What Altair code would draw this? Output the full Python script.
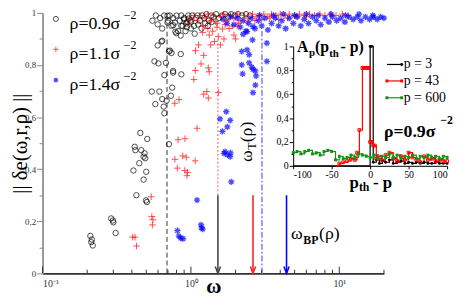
import altair as alt
import pandas as pd

FONT = "Liberation Serif"

# ---------------- main panel data (omega, ||de||) ----------------
rho09_x = [0.21, 0.215, 0.213, 0.218, 0.29, 0.298, 0.30, 0.311,
           0.456, 0.508, 0.418, 0.422, 0.463, 0.487, 0.48, 0.492, 0.449, 0.41, 0.50, 0.48, 0.429, 0.498, 0.505,
           0.711, 0.545, 0.613, 0.748, 0.576, 0.641, 0.686, 0.662, 0.733, 0.655,
           0.662, 0.759, 0.568, 0.604, 0.679, 0.711, 0.74, 0.854, 0.759, 0.862,
           0.641, 0.597, 0.722, 0.634,
           0.696, 0.597, 0.696, 0.779, 0.798, 0.759, 0.862, 0.786, 0.854, 0.899, 0.965, 0.945,
           0.55, 0.58, 0.62, 0.64, 0.66, 0.70, 0.72, 0.74, 0.76, 0.80, 0.82, 0.84, 0.86, 0.88, 0.90, 0.93,
           0.96, 0.99, 1.02, 1.05, 1.08, 1.11, 1.15, 1.19, 1.23, 1.27, 1.32, 1.37, 1.42, 1.48, 1.55, 1.62,
           1.70, 1.78, 1.87, 1.97, 2.08, 2.2, 2.35, 2.5,
           0.92, 1.0, 1.06, 1.12, 1.18, 1.25, 1.3, 1.38, 1.0, 0.94]
rho09_y = [0.144, 0.13, 0.12, 0.107, 0.211, 0.203, 0.196, 0.155,
           0.539, 0.516, 0.486, 0.473, 0.473, 0.461, 0.448, 0.442, 0.423, 0.395, 0.39, 0.36, 0.30, 0.28, 0.274,
           0.496, 0.698, 0.698, 0.713, 0.65, 0.669, 0.663, 0.615, 0.682, 0.64,
           0.761, 0.777, 0.814, 0.806, 0.808, 0.852, 0.846, 0.842, 0.771, 0.764,
           0.893, 0.875, 0.855, 0.89,
           0.989, 0.956, 0.963, 0.963, 0.922, 0.953, 0.95, 0.928, 0.913, 0.975, 0.978, 0.965,
           0.97, 0.99, 0.98, 0.94, 0.99, 0.97, 0.99, 0.95, 0.98, 0.99, 0.93, 0.97, 0.99, 0.95, 0.98, 0.96,
           0.99, 0.97, 0.99, 0.95, 0.98, 0.99, 0.97, 0.99, 0.98, 0.995, 0.97, 0.99, 0.985, 0.995, 0.98, 0.99,
           0.995, 0.985, 0.995, 0.99, 0.995, 0.99, 0.995, 0.99,
           0.93, 0.94, 0.92, 0.955, 0.94, 0.96, 0.95, 0.965, 0.965, 0.945]

rho11_x = [0.405, 0.42, 0.43, 0.54, 0.545, 0.555, 0.55,
           0.82, 0.912, 0.78, 0.88, 0.93, 0.81, 0.91, 0.95, 0.94, 1.068,
           1.10, 0.832, 0.779, 1.28, 1.22, 1.31, 1.53,
           1.047, 1.07, 1.074, 1.22, 1.17, 1.31, 1.33, 1.125, 1.36, 1.33, 1.53, 1.63, 1.81, 2.0, 1.47, 1.44,
           1.58, 1.67, 1.95, 2.05,
           0.95, 1.0, 1.05, 1.1, 1.15, 1.2, 1.25, 1.3, 1.36, 1.42, 1.5, 1.58, 1.66, 1.75, 1.85, 1.95, 2.05,
           2.15, 2.3, 2.45, 2.6, 2.75, 2.9, 3.1, 3.3, 3.5, 3.75, 4.0, 4.3, 4.6, 5.0, 5.4, 5.8, 6.3, 6.8, 7.4,
           8.0, 8.7, 9.5, 10.5, 11.5,
           1.3, 1.4, 1.2, 1.5, 1.7, 1.9, 2.1, 2.4, 2.7, 3.0, 3.4, 3.9, 4.5, 5.2, 6.0]
rho11_y = [0.139, 0.139, 0.105, 0.294, 0.218, 0.206, 0.186,
           0.513, 0.517, 0.438, 0.451, 0.446, 0.404, 0.395, 0.388, 0.375, 0.432,
           0.557, 0.667, 0.653, 0.698, 0.688, 0.673, 0.694,
           0.744, 0.779, 0.855, 0.837, 0.804, 0.789, 0.774, 0.877, 0.877, 0.915, 0.909, 0.938, 0.94, 0.90,
           0.966, 0.89, 0.877, 0.90, 0.915, 0.95,
           0.96, 0.98, 0.99, 0.97, 0.99, 0.95, 0.98, 0.995, 0.97, 0.99, 0.96, 0.985, 0.995, 0.97, 0.99, 0.98,
           0.995, 0.97, 0.99, 0.98, 0.995, 0.985, 0.99, 0.995, 0.985, 0.995, 0.99, 0.995, 0.99, 0.995, 0.99,
           0.995, 0.99, 0.995, 0.99, 0.995, 0.99, 0.995, 0.99, 0.995, 0.99,
           0.94, 0.93, 0.925, 0.945, 0.955, 0.95, 0.96, 0.965, 0.97, 0.975, 0.98, 0.975, 0.98, 0.985, 0.985]

rho14_x = [0.811, 0.829, 0.854, 0.885, 1.10, 1.17, 1.18, 1.20, 1.87, 1.67, 1.76, 1.84, 1.85, 1.70,
           1.73, 1.57, 1.84, 1.76, 1.63,
           2.62, 2.72, 2.75, 2.72, 2.62, 2.57, 2.47, 2.2, 2.23, 2.47, 2.39, 2.2, 3.25, 3.25, 2.6, 2.25, 2.39, 2.62,
           1.65, 1.75, 1.85, 1.95, 2.05, 2.15, 2.25, 2.35, 2.45, 2.55, 2.7, 2.85, 3.0, 3.15, 3.3, 3.5, 3.7,
           3.9, 4.1, 4.35, 4.6, 4.9, 5.2, 5.5, 5.8, 6.2, 6.6, 7.0, 7.5, 8.0, 8.5, 9.0, 9.6, 10.2, 10.9, 11.6,
           12.4, 13.2, 14.0, 15.0, 16.0, 17.0, 18.0, 19.0, 20.0,
           2.9, 3.6, 4.2, 5.0, 6.0, 7.2, 8.8, 11.0, 13.6, 16.8]
rho14_y = [0.164, 0.143, 0.135, 0.133, 0.281, 0.186, 0.175, 0.17, 0.351, 0.461, 0.455, 0.448, 0.463, 0.467,
           0.621, 0.593, 0.587, 0.562, 0.545,
           0.694, 0.723, 0.758, 0.777, 0.783, 0.792, 0.808, 0.80, 0.766, 0.84, 0.858, 0.852, 0.814, 0.884,
           0.896, 0.918, 0.928, 0.947,
           0.975, 0.96, 0.985, 0.955, 0.98, 0.945, 0.97, 0.93, 0.96, 0.98, 0.94, 0.97, 0.95, 0.98, 0.935,
           0.96, 0.98, 0.95, 0.97, 0.94, 0.98, 0.96, 0.985, 0.95, 0.975, 0.96, 0.985, 0.97, 0.955, 0.98,
           0.965, 0.985, 0.97, 0.98, 0.965, 0.985, 0.975, 0.985, 0.97, 0.985, 0.975, 0.985, 0.975, 0.985, 0.98,
           0.99, 0.99, 0.995, 0.99, 0.995, 0.99, 0.995, 0.99, 0.995, 0.99]

# vertical markers (omega positions)
omega_c_black = 0.69
omega_T_red = 1.52
omega_T_blue = 3.01
arrow_x = [1.52, 2.62, 4.41]
arrow_colors = ["#444444", "#ff2020", "#0000ff"]
arrow_top = 0.30

# tick positions
xtick_major = [0.1, 1, 10]
xtick_minor = [0.2, 0.3, 0.4, 0.5, 0.6, 0.7, 0.8, 0.9, 2, 3, 4, 5, 6, 7, 8, 9, 20]
ytick_major = [0, 0.2, 0.4, 0.6, 0.8, 1]
ytick_minor = [0.1, 0.3, 0.5, 0.7, 0.9]

# ---------------- inset data: A_p(p_th - p) ----------------
p3_x = [-100, -50, 0, 2, 4, 8, 12, 16, 20, 25, 30, 35, 40, 45, 50, 55, 60, 65, 70, 75, 80, 85, 90, 95, 100]
p3_y = [0, 0, 1.0, 1.0, 0.03, 0.05, 0.02, 0.04, 0.03, 0.05, 0.02, 0.03, 0.04, 0.02, 0.03, 0.02, 0.03,
        0.02, 0.03, 0.02, 0.02, 0.03, 0.02, 0.02, 0.02]
p43_x = [-45, -40, -35, -30, -25, -20, -17, -14, -10, -8, -6, -4, -2, 0, 2, 4, 6, 8, 10, 15, 20, 25, 30,
         35, 40, 45, 50, 55, 60, 65, 70, 75, 80, 85, 90, 95, 100]
p43_y = [0.0, 0.02, 0.03, 0.04, 0.06, 0.05, 0.11, 0.30, 0.82, 0.82, 0.82, 0.82, 0.82, 0.20, 0.20, 0.17,
         0.17, 0.06, 0.08, 0.05, 0.09, 0.11, 0.06, 0.04, 0.08, 0.05, 0.11, 0.07, 0.05, 0.03, 0.08, 0.05,
         0.06, 0.04, 0.05, 0.04, 0.04]
p600_x = [-100, -95, -90, -85, -80, -75, -70, -65, -60, -55, -50, -45, -40, -35, -30, -25, -20, -15, -10,
          -5, 0, 5, 10, 15, 20, 25, 30, 35, 40, 45, 50, 55, 60, 65, 70, 75, 80, 85, 90, 95, 100]
p600_y = [0.11, 0.12, 0.10, 0.12, 0.13, 0.10, 0.11, 0.09, 0.12, 0.13, 0.12, 0.05, 0.08, 0.06, 0.07, 0.09,
          0.07, 0.10, 0.09, 0.08, 0.07, 0.09, 0.06, 0.08, 0.07, 0.10, 0.07, 0.09, 0.06, 0.08, 0.07, 0.09,
          0.06, 0.08, 0.07, 0.09, 0.07, 0.08, 0.06, 0.08, 0.07]
inset_labels = ["p = 3", "p = 43", "p = 600"]
inset_colors = ["#000000", "#ff0000", "#139213"]
inset_xticks = [-100, -50, 0, 50, 100]

# ---------------- annotation texts ----------------
legend_labels = ["ρ=0.9σ", "ρ=1.1σ", "ρ=1.4σ"]
legend_sup = ["−2", "−2", "−2"]

# ---------------- scales / axes ----------------
xs_main = alt.Scale(type="log", domain=[0.1, 20], nice=False)
ys_main = alt.Scale(domain=[0, 1], nice=False, zero=False)
xs_in = alt.Scale(domain=[-100, 100], range=[254, 410], nice=False, zero=False)
ys_in = alt.Scale(domain=[0, 1], range=[155, 34], nice=False, zero=False)

comma_expr = ("datum.value == 0 ? '0' : (datum.value == 1 ? '1' : "
              "replace(format(datum.value, '.1f'), '.', ','))")

x_axis_main = alt.Axis(orient="bottom", values=xtick_major, ticks=False, grid=False,
                       domainColor="#333", domainWidth=2,
                       labelExpr="datum.value < 0.5 ? '10⁻¹' : (datum.value < 5 ? '10⁰' : '10¹')",
                       labelFont=FONT, labelFontSize=10, labelColor="#333", labelPadding=5,
                       title="ω", titleFont=FONT, titleFontSize=21, titleFontWeight="bold",
                       titleX=173, titleY=19, titleAlign="center", titleBaseline="alphabetic")
y_axis_main = alt.Axis(orient="left", values=ytick_major, grid=False, labelExpr=comma_expr,
                       tickSize=6, tickColor="#888", domainColor="#999", domainWidth=2,
                       labelFont=FONT, labelFontSize=9, labelColor="#333", labelPadding=1,
                       title="|| δe(ω,r,ρ) ||", titleFont=FONT, titleFontSize=21, titleFontWeight="normal",
                       titleAngle=270, titleX=-16, titleY=132, titleAlign="center", titleBaseline="alphabetic")
y_axis_main_minor = alt.Axis(orient="left", values=ytick_minor, grid=False, labels=False, domain=False,
                             tickSize=3.5, tickColor="#888", title=None)
x_axis_in = alt.Axis(orient="bottom", offset=-109, values=inset_xticks, grid=False,
                     labelExpr="'' + datum.value", tickSize=3, domainColor="#000", tickColor="#000",
                     labelFont=FONT, labelFontSize=10, labelColor="#000", labelPadding=1, title=None)
y_axis_in = alt.Axis(orient="left", offset=-254, values=ytick_major, grid=False, labelExpr=comma_expr,
                     tickSize=4, domainColor="#000", tickColor="#000",
                     labelFont=FONT, labelFontSize=10, labelColor="#000", labelPadding=1, title=None)
y_axis_in_minor = alt.Axis(orient="left", offset=-254, values=ytick_minor, grid=False, labels=False,
                           domain=False, tickSize=2, tickColor="#000", title=None)


def mx(axis=None):
    return alt.X("x:Q", scale=xs_main, axis=axis)


def my(axis=None):
    return alt.Y("y:Q", scale=ys_main, axis=axis)


def ix(axis=None):
    return alt.X("x:Q", scale=xs_in, axis=axis)


def iy(axis=None):
    return alt.Y("y:Q", scale=ys_in, axis=axis)


PLUS = "M-1,0L1,0M0,-1L0,1"
STAR = "M-1,0L1,0M0,-1L0,1M-0.7,-0.7L0.7,0.7M-0.7,0.7L0.7,-0.7"
VHEAD = "M-0.9,-2.3L0,0L0.9,-2.3"

anchor_main = pd.DataFrame({"x": [1.0], "y": [0.5]})
anchor_in = pd.DataFrame({"x": [0.0], "y": [0.5]})

# ---------------- main layers ----------------
ax_main = alt.Chart(anchor_main).mark_point(opacity=0).encode(x=mx(x_axis_main), y=my(y_axis_main))
ax_main_minor = alt.Chart(anchor_main).mark_point(opacity=0).encode(x=mx(), y=my(y_axis_main_minor))

black_pts = alt.Chart(pd.DataFrame({"x": rho09_x, "y": rho09_y})).mark_point(
    shape="circle", filled=False, color="black", size=30, strokeWidth=1).encode(x=mx(), y=my())
red_pts = alt.Chart(pd.DataFrame({"x": rho11_x, "y": rho11_y})).mark_point(
    shape=PLUS, filled=False, color="#ff0000", size=45, strokeWidth=1).encode(x=mx(), y=my())
blue_pts = alt.Chart(pd.DataFrame({"x": rho14_x, "y": rho14_y})).mark_point(
    shape=STAR, filled=False, color="#0000ff", size=40, strokeWidth=1.3).encode(x=mx(), y=my())

g_black = alt.Chart(pd.DataFrame({"x": [omega_c_black], "y": [0], "y2": [0.985]})).mark_rule(
    color="#333", strokeDash=[5, 3], strokeWidth=1).encode(x=mx(), y=my(), y2="y2:Q")
g_red = alt.Chart(pd.DataFrame({"x": [omega_T_red], "y": [arrow_top], "y2": [0.90]})).mark_rule(
    color="#ff5050", strokeDash=[2, 2], strokeWidth=1).encode(x=mx(), y=my(), y2="y2:Q")
g_blue = alt.Chart(pd.DataFrame({"x": [omega_T_blue], "y": [0], "y2": [0.93]})).mark_rule(
    color="#9a9aff", strokeDash=[6, 2, 2, 2], strokeWidth=2).encode(x=mx(), y=my(), y2="y2:Q")

arr_df = pd.DataFrame({"x": arrow_x, "y": [0] * 3, "y2": [arrow_top] * 3, "c": arrow_colors})
arrows = alt.Chart(arr_df).mark_rule(strokeWidth=1.6).encode(
    x=mx(), y=my(), y2="y2:Q", color=alt.Color("c:N", scale=None))
heads = alt.Chart(arr_df).mark_point(shape=VHEAD, filled=False, size=36, strokeWidth=1.5, opacity=1).encode(
    x=mx(), y=my(), color=alt.Color("c:N", scale=None))

ticks_df = pd.DataFrame({"x": xtick_major + xtick_minor,
                         "y": [0] * (len(xtick_major) + len(xtick_minor)),
                         "y2": [0.026] * len(xtick_major) + [0.014] * len(xtick_minor)})
xticks = alt.Chart(ticks_df).mark_rule(color="#333", strokeWidth=1).encode(x=mx(), y=my(), y2="y2:Q")


def text_layer(df, xe, ye, **kw):
    return alt.Chart(df).mark_text(font=FONT, align="left", baseline="alphabetic", color="black", **kw).encode(
        x=xe, y=ye, text="t:N")


leg_sym_x = 0.123
leg_sym_y = [0.977, 0.86, 0.742]
leg_c = alt.Chart(pd.DataFrame({"x": [leg_sym_x], "y": [leg_sym_y[0]]})).mark_point(
    shape="circle", filled=False, color="black", size=26, strokeWidth=1).encode(x=mx(), y=my())
leg_r = alt.Chart(pd.DataFrame({"x": [leg_sym_x], "y": [leg_sym_y[1]]})).mark_point(
    shape=PLUS, filled=False, color="#ff0000", size=30, strokeWidth=1).encode(x=mx(), y=my())
leg_b = alt.Chart(pd.DataFrame({"x": [leg_sym_x], "y": [leg_sym_y[2]]})).mark_point(
    shape=STAR, filled=False, color="#0000ff", size=22, strokeWidth=1.3).encode(x=mx(), y=my())
leg_txt = text_layer(pd.DataFrame({"x": [0.152] * 3, "y": [0.939, 0.822, 0.705], "t": legend_labels}),
                     mx(), my(), fontSize=18)
leg_sup = text_layer(pd.DataFrame({"x": [0.353] * 3, "y": [0.978, 0.861, 0.744], "t": legend_sup}),
                     mx(), my(), fontSize=12)

wT_big = text_layer(pd.DataFrame({"x": [2.58, 2.58], "y": [0.428, 0.503], "t": ["ω", "(ρ)"]}),
                    mx(), my(), fontSize=18, angle=270)
wT_sub = text_layer(pd.DataFrame({"x": [2.745], "y": [0.475], "t": ["T"]}),
                    mx(), my(), fontSize=12, angle=270)
wBP_big = text_layer(pd.DataFrame({"x": [4.73, 7.31], "y": [0.1326, 0.1326], "t": ["ω", "(ρ)"]}),
                     mx(), my(), fontSize=18)
wBP_sub = text_layer(pd.DataFrame({"x": [5.72], "y": [0.1136], "t": ["BP"]}),
                     mx(), my(), fontSize=12, fontWeight="bold")

# ---------------- inset layers ----------------
ax_in = alt.Chart(anchor_in).mark_point(opacity=0).encode(x=ix(x_axis_in), y=iy(y_axis_in))
ax_in_minor = alt.Chart(anchor_in).mark_point(opacity=0).encode(x=ix(), y=iy(y_axis_in_minor))


def step_series(xs, ys, color, shape, filled, msize):
    d = pd.DataFrame({"x": xs, "y": ys})
    line = alt.Chart(d).mark_line(interpolate="step-after", color=color, strokeWidth=1.2).encode(x=ix(), y=iy())
    pts = alt.Chart(d).transform_filter("datum.y > 0").mark_point(
        shape=shape, filled=filled, color=color, size=msize, strokeWidth=1, opacity=1).encode(x=ix(), y=iy())
    return line, pts


l3, m3 = step_series(p3_x, p3_y, inset_colors[0], "circle", True, 8)
l43, m43 = step_series(p43_x, p43_y, inset_colors[1], "square", False, 8)
l600, m600 = step_series(p600_x, p600_y, inset_colors[2], "square", True, 9)

ileg_line_y = [0.849, 0.711, 0.570]
ileg_df = pd.DataFrame({"x": [21.8] * 3, "x2": [41] * 3, "y": ileg_line_y, "c": inset_colors})
ileg_lines = alt.Chart(ileg_df).mark_rule(strokeWidth=1.2).encode(
    x=ix(), x2="x2:Q", y=iy(), color=alt.Color("c:N", scale=None))
ileg_pts_df = pd.DataFrame({"x": [41, 21.8, 41, 21.8, 41], "y": [0.849, 0.711, 0.711, 0.570, 0.570],
                            "c": [inset_colors[0], inset_colors[1], inset_colors[1], inset_colors[2], inset_colors[2]],
                            "f": ["circle", "square", "square", "square", "square"]})
ileg_pts = alt.Chart(ileg_pts_df).mark_point(filled=True, size=9, opacity=1).encode(
    x=ix(), y=iy(), color=alt.Color("c:N", scale=None), shape=alt.Shape("f:N", scale=None))
ileg_txt = text_layer(pd.DataFrame({"x": [43.6] * 3, "y": [0.818, 0.678, 0.537], "t": inset_labels}),
                      ix(), iy(), fontSize=14)

ititle_big = text_layer(pd.DataFrame({"x": [-94.9, -71.8, -38.5], "y": [0.953] * 3, "t": ["A", "(p", "- p)"]}),
                        ix(), iy(), fontSize=16, fontWeight="bold")
ititle_sub = text_layer(pd.DataFrame({"x": [-79.5, -53.2], "y": [0.917, 0.912], "t": ["p", "th"]}),
                        ix(), iy(), fontSize=11, fontWeight="bold")
ixt_big = text_layer(pd.DataFrame({"x": [-26.9, 3.8], "y": [-0.182, -0.182], "t": ["p", "- p"]}),
                     ix(), iy(), fontSize=17, fontWeight="bold")
ixt_sub = text_layer(pd.DataFrame({"x": [-14.6], "y": [-0.207], "t": ["th"]}),
                     ix(), iy(), fontSize=12, fontWeight="bold")
irho = text_layer(pd.DataFrame({"x": [17.9], "y": [0.242], "t": ["ρ=0.9σ"]}),
                  ix(), iy(), fontSize=18, fontWeight="bold")
irho_sup = text_layer(pd.DataFrame({"x": [91], "y": [0.351], "t": ["−2"]}),
                      ix(), iy(), fontSize=12, fontWeight="bold")

layers = [ax_main, ax_main_minor, g_black, g_red, g_blue, black_pts, red_pts, blue_pts, arrows, heads, xticks,
          leg_c, leg_r, leg_b, leg_txt, leg_sup, wT_big, wT_sub, wBP_big, wBP_sub,
          ax_in, ax_in_minor, l3, l43, l600, m3, m43, m600, ileg_lines, ileg_pts, ileg_txt,
          ititle_big, ititle_sub, ixt_big, ixt_sub, irho, irho_sup]

chart = alt.layer(*layers).resolve_scale(x="independent", y="independent").properties(
    width=346, height=264,
    padding={"left": 35, "top": 3, "right": 72, "bottom": 23},
    autosize=alt.AutoSizeParams(type="none"),
    background="white",
).configure_view(stroke=None)

chart.save("out.html", embed_options={"renderer": "svg", "actions": False})
